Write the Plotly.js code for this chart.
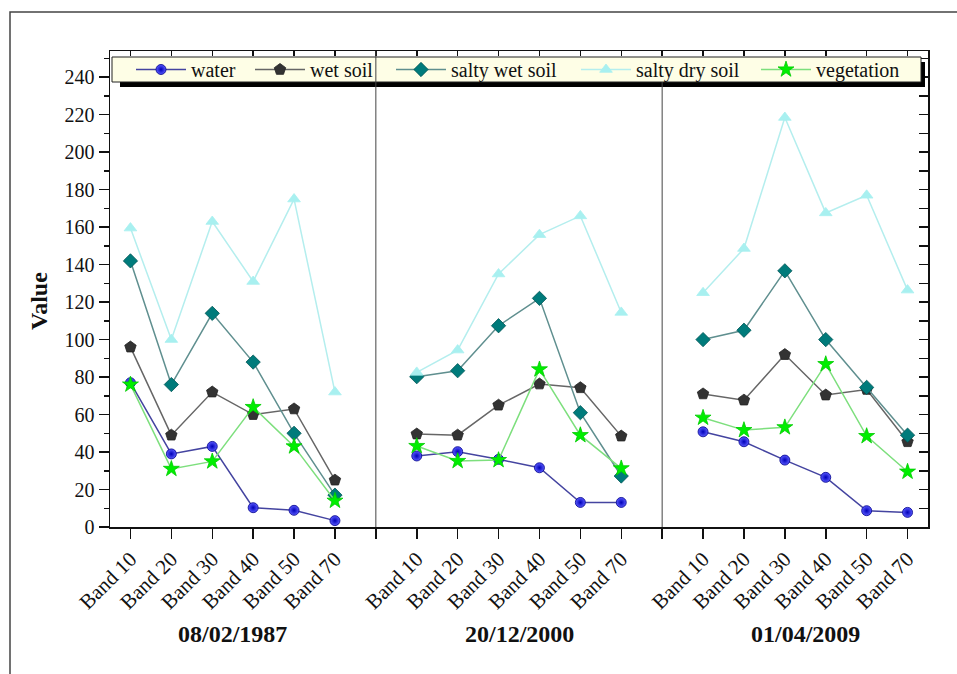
<!DOCTYPE html>
<html>
<head>
<meta charset="utf-8">
<script src="https://cdn.plot.ly/plotly-3.0.1.min.js"></script>
<style>html,body{margin:0;padding:0;background:#fff;}#chart{width:957px;height:674px;}</style>
</head>
<body>
<div id="chart"></div>
<script>
// ---- data ----
const bands = ['Band 10','Band 20','Band 30','Band 40','Band 50','Band 70'];
const dates = ['08/02/1987','20/12/2000','01/04/2009'];
const seriesNames = ['water','wet soil','salty wet soil','salty dry soil','vegetation'];
const water    = [77,39,43,10.3,8.9,3.4,   37.9,40.2,36.1,31.6,13.1,13.1,   50.8,45.5,35.7,26.5,8.7,7.8];
const wetSoil  = [96,49,72,60,63,25,       49.6,49,65,76.3,74.3,48.5,       71,67.7,92,70.4,73.4,45.5];
const saltyWet = [142,76,114,88,50,17,     80.2,83.4,107.4,122,61,27.2,     100,105,136.7,100,74.5,49];
const saltyDry = [159.5,100,163,131,175,72, 82.5,94.4,135,156,166,114.5,    125,148.6,218.5,167.6,177,126.4];
const vegetation = [76,31,35,64,43,14,     43.2,35.2,35.7,84.1,49,31.3,     58.3,51.7,53.2,86.9,48.5,29.5];

const styles = [
  {line:'#4444a0', marker:'#5a5aff', mline:'#00008a', symbol:'circle', size:10, grad:'#0000b8', lw:54},
  {line:'#666666', marker:'#333333', mline:'#222222', symbol:'pentagon', size:12, lw:76},
  {line:'#5f8f8f', marker:'#007b7b', mline:'#005555', symbol:'diamond', size:11, lw:120},
  {line:'#b4eeee', marker:'#a8f0f0', mline:'#a8f0f0', symbol:'triangle-up', size:11, lw:115},
  {line:'#7ddf7d', marker:'#00ee00', mline:'#00cc00', symbol:'star', size:12, lw:95}
];
const allSeries = [water, wetSoil, saltyWet, saltyDry, vegetation];

const nb = bands.length, gap = nb + 1;
function buildXY(vals){
  const xs=[], ys=[];
  dates.forEach((d,p)=>{
    bands.forEach((b,i)=>{ xs.push(p*gap+i); ys.push(vals[p*nb+i]); });
    xs.push(null); ys.push(null);
  });
  return {xs, ys};
}

const traces = allSeries.map((vals,k)=>{
  const {xs,ys} = buildXY(vals);
  const s = styles[k];
  const m = {symbol:s.symbol, size:s.size, color:s.marker, line:{color:s.mline, width:0.8}};
  if(s.grad) m.gradient = {type:'radial', color:s.grad};
  return {
    type:'scatter', mode:'lines+markers', name:seriesNames[k], x:xs, y:ys,
    connectgaps:false, legendwidth:s.lw,
    line:{color:s.line, width:1.5},
    marker:m
  };
});
// dummy for top/right mirror axes
traces.push({type:'scatter', x:[null], y:[null], xaxis:'x2', yaxis:'y2', showlegend:false, hoverinfo:'skip'});

const tickvals=[], ticktext=[];
dates.forEach((d,p)=>{
  bands.forEach((b,i)=>{ tickvals.push(p*gap+i); ticktext.push(b); });
  if(p<dates.length-1){ tickvals.push(p*gap+nb); ticktext.push(''); }
});
const xr = [-0.5, dates.length*gap - 1.5];
const yr = [0, 254];

const serif = 'Liberation Serif, Times New Roman, serif';
const L=110, R=29, T=51, B=147, W=957, H=674;
const pw = W-L-R, ph = H-T-B;
const px = v => (v - L)/pw;
const py = v => (H - B - v)/ph;

const shapes = [
  {type:'rect', xref:'paper', yref:'paper', x0:px(10), x1:px(975), y0:py(690), y1:py(12), line:{color:'#444', width:1.5}, fillcolor:'rgba(0,0,0,0)', layer:'above'},
  {type:'rect', xref:'paper', yref:'paper', x0:px(120), x1:px(925), y0:py(87), y1:py(62), line:{width:0}, fillcolor:'#000', layer:'above'},
  {type:'rect', xref:'paper', yref:'paper', x0:px(112), x1:px(921), y0:py(82), y1:py(57), line:{color:'#222', width:1}, fillcolor:'#fefee6', layer:'above'},
  {type:'line', xref:'x', yref:'paper', x0:nb, x1:nb, y0:0, y1:1, line:{color:'#444', width:1}, layer:'above'},
  {type:'line', xref:'x', yref:'paper', x0:gap+nb, x1:gap+nb, y0:0, y1:py(82), line:{color:'#444', width:1}, layer:'above'}
];

const annotations = dates.map((d,p)=>({
  text:'<b>'+d+'</b>', xref:'x', yref:'paper', x:p*gap+(nb-1)/2, y:py(634),
  showarrow:false, xanchor:'center', yanchor:'middle',
  font:{family:serif, size:24, color:'#111'}
}));
annotations.push({text:'<b>Value</b>', xref:'paper', yref:'paper', x:px(39), y:py(301), textangle:-90,
  showarrow:false, xanchor:'center', yanchor:'middle', font:{family:serif, size:24, color:'#111'}});

const layout = {
  width:W, height:H,
  margin:{l:L, r:R, t:T, b:B},
  paper_bgcolor:'#fff', plot_bgcolor:'#fff',
  font:{family:serif, size:20, color:'#111'},
  showlegend:true,
  legend:{orientation:'h', x:px(131), xanchor:'left', y:py(50), yanchor:'top',
          bgcolor:'rgba(0,0,0,0)', borderwidth:0, itemwidth:50,
          font:{family:serif, size:20, color:'#111'}, tracegroupgap:0},
  xaxis:{range:xr, tickmode:'array', tickvals:tickvals, ticktext:ticktext, tickangle:-45,
         ticks:'outside', ticklen:10, tickwidth:1.5, tickcolor:'#111',
         showline:true, linecolor:'#111', linewidth:1.5, mirror:true,
         showgrid:false, zeroline:false, tickfont:{family:serif, size:21, color:'#111'}},
  yaxis:{range:yr, tickmode:'linear', tick0:0, dtick:20,
         ticks:'outside', ticklen:10, tickwidth:1.5, tickcolor:'#111',
         minor:{dtick:10, ticks:'outside', ticklen:5, tickwidth:1.5, tickcolor:'#111'},
         showline:true, linecolor:'#111', linewidth:1.5, mirror:true,
         showgrid:false, zeroline:false, tickfont:{family:serif, size:20, color:'#111'}},
  xaxis2:{overlaying:'x', side:'top', anchor:'y', range:xr, tickmode:'array', tickvals:tickvals,
          ticks:'inside', ticklen:5, tickwidth:1.5, tickcolor:'#111', showticklabels:false,
          showline:false, showgrid:false, zeroline:false},
  yaxis2:{overlaying:'y', side:'right', anchor:'x', range:yr, tickmode:'linear', tick0:0, dtick:10,
          ticks:'inside', ticklen:9, tickwidth:1.5, tickcolor:'#111', showticklabels:false,
          showline:false, showgrid:false, zeroline:false},
  shapes:shapes,
  annotations:annotations
};

Plotly.newPlot('chart', traces, layout, {displayModeBar:false, staticPlot:true});
</script>
</body>
</html>
